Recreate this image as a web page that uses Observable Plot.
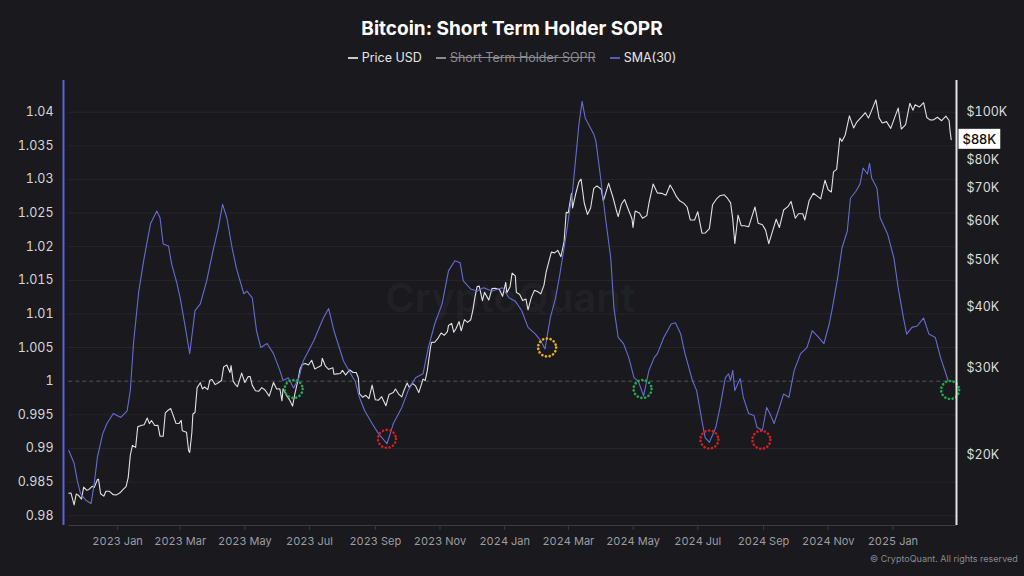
<!DOCTYPE html>
<html><head><meta charset="utf-8">
<script src="https://cdn.jsdelivr.net/npm/d3@7"></script>
<script src="https://cdn.jsdelivr.net/npm/@observablehq/plot@0.6"></script>
<style>
html,body{margin:0;padding:0;background:#19191e;}
body{width:1024px;height:576px;overflow:hidden;position:relative;font-family:Inter,"Noto Sans",sans-serif;}
#title{position:absolute;left:0;top:16px;width:1024px;text-align:center;color:#fff;font-size:19px;font-weight:700;line-height:26px;}
#legend{position:absolute;top:49px;left:0;width:1024px;display:flex;justify-content:center;gap:14px;font-size:12.5px;line-height:18px;color:#e6e6e6;}
#legend .it{display:flex;align-items:center;gap:4px;}
#legend .mk{display:inline-block;width:10px;height:1.5px;}
#legend .off{color:#8a8a8f;text-decoration:line-through;}
#chart{position:absolute;top:75px;left:0;}
#copy{position:absolute;left:870px;top:553px;font-size:9px;color:#8a8a8f;}
</style></head>
<body>
<div id="title">Bitcoin: Short Term Holder SOPR</div>
<div id="legend">
  <div class="it"><span class="mk" style="background:#c8c8c8"></span><span>Price USD</span></div>
  <div class="it"><span class="mk" style="background:#8a8a8f"></span><span class="off">Short Term Holder SOPR</span></div>
  <div class="it"><span class="mk" style="background:#5a5ab8"></span><span>SMA(30)</span></div>
</div>
<div id="chart"></div>
<div id="copy">© CryptoQuant. All rights reserved</div>
<script>
// ---- data ----
const smaSeries = [
["2022-11-16",0.9897],["2022-11-21",0.9878],["2022-11-24",0.9852],["2022-11-27",0.9833],["2022-12-02",0.9823],["2022-12-07",0.9818],["2022-12-10",0.9848],["2022-12-13",0.9887],["2022-12-18",0.9922],["2022-12-22",0.9937],["2022-12-28",0.9952],
["2023-01-04",0.9946],["2023-01-10",0.9956],["2023-01-13",0.9986],["2023-01-16",1.0056],["2023-01-21",1.0134],["2023-01-26",1.0183],["2023-02-01",1.0234],["2023-02-07",1.0253],["2023-02-10",1.0243],["2023-02-13",1.0204],["2023-02-18",1.0201],["2023-02-21",1.0174],["2023-02-26",1.0145],["2023-03-01",1.0124],["2023-03-06",1.0079],["2023-03-10",1.0041],["2023-03-15",1.0105],["2023-03-20",1.0115],["2023-03-26",1.0149],["2023-04-01",1.0194],["2023-04-06",1.0228],["2023-04-10",1.0263],["2023-04-14",1.0243],["2023-04-19",1.0198],["2023-04-23",1.0168],["2023-04-30",1.0130],["2023-05-03",1.0134],["2023-05-08",1.0124],["2023-05-12",1.0075],["2023-05-16",1.0050],["2023-05-22",1.0056],["2023-05-28",1.0041],["2023-06-03",1.0016],["2023-06-06",1.0001],["2023-06-11",1.0005],["2023-06-16",0.9990],["2023-06-21",1.0005],["2023-06-25",1.0030],["2023-07-05",1.0060],["2023-07-14",1.0094],["2023-07-19",1.0108],["2023-07-24",1.0075],["2023-08-02",1.0030],["2023-08-11",1.0005],["2023-08-13",1.0000],["2023-08-17",0.9976],["2023-08-22",0.9956],["2023-08-29",0.9937],["2023-09-04",0.9922],["2023-09-12",0.9907],["2023-09-18",0.9937],["2023-09-26",0.9961],["2023-10-02",0.9986],["2023-10-09",1.0005],["2023-10-16",1.0011],["2023-10-21",1.0050],["2023-10-27",1.0085],["2023-11-03",1.0115],["2023-11-09",1.0164],["2023-11-15",1.0179],["2023-11-20",1.0176],["2023-11-23",1.0149],["2023-11-30",1.0137],["2023-12-06",1.0134],["2023-12-12",1.0139],["2023-12-20",1.0134],["2023-12-30",1.0139],
["2024-01-05",1.0124],["2024-01-11",1.0119],["2024-01-17",1.0105],["2024-01-23",1.0080],["2024-01-30",1.0070],["2024-02-04",1.0060],["2024-02-08",1.0048],["2024-02-13",1.0094],["2024-02-18",1.0124],["2024-02-22",1.0159],["2024-02-27",1.0208],["2024-03-05",1.0283],["2024-03-08",1.0332],["2024-03-11",1.0382],["2024-03-14",1.0416],["2024-03-17",1.0391],["2024-03-22",1.0376],["2024-03-25",1.0367],["2024-03-27",1.0357],["2024-03-31",1.0308],["2024-04-05",1.0243],["2024-04-10",1.0183],["2024-04-13",1.0109],["2024-04-17",1.0065],["2024-04-22",1.0056],["2024-04-27",1.0035],["2024-05-02",1.0005],["2024-05-06",1.0000],["2024-05-11",0.9978],["2024-05-16",1.0016],["2024-05-21",1.0035],["2024-05-24",1.0041],["2024-05-30",1.0065],["2024-06-06",1.0085],["2024-06-10",1.0087],["2024-06-15",1.0070],["2024-06-19",1.0041],["2024-06-26",1.0001],["2024-06-30",0.9986],["2024-07-05",0.9941],["2024-07-08",0.9916],["2024-07-12",0.9909],["2024-07-18",0.9931],["2024-07-22",0.9961],["2024-07-27",1.0005],["2024-07-30",1.0011],["2024-08-01",1.0001],["2024-08-03",1.0016],["2024-08-05",0.9986],["2024-08-10",1.0004],["2024-08-13",0.9976],["2024-08-18",0.9952],["2024-08-23",0.9949],["2024-08-26",0.9931],["2024-08-31",0.9927],["2024-09-04",0.9961],["2024-09-07",0.9952],["2024-09-11",0.9937],["2024-09-15",0.9956],["2024-09-20",0.9981],["2024-09-25",0.9976],["2024-09-30",1.0016],["2024-10-06",1.0041],["2024-10-12",1.0050],["2024-10-17",1.0075],["2024-10-23",1.0065],["2024-10-28",1.0056],["2024-11-02",1.0085],["2024-11-05",1.0109],["2024-11-10",1.0154],["2024-11-14",1.0198],["2024-11-19",1.0223],["2024-11-22",1.0272],["2024-11-27",1.0282],["2024-12-01",1.0293],["2024-12-04",1.0317],["2024-12-08",1.0308],["2024-12-10",1.0324],["2024-12-12",1.0302],["2024-12-17",1.0287],["2024-12-20",1.0243],["2024-12-27",1.0219],
["2025-01-02",1.0183],["2025-01-06",1.0139],["2025-01-11",1.0094],["2025-01-14",1.0070],["2025-01-19",1.0080],["2025-01-24",1.0082],["2025-01-30",1.0094],["2025-02-04",1.0070],["2025-02-10",1.0065],["2025-02-15",1.0035],["2025-02-20",1.0011],["2025-02-22",1.0001]
];
const priceSeries = [
["2022-11-16",16670],["2022-11-18",16690],["2022-11-21",15780],["2022-11-23",16600],["2022-11-25",16520],["2022-11-28",16210],["2022-11-30",17160],["2022-12-03",16900],["2022-12-05",16970],["2022-12-08",17220],["2022-12-10",17130],["2022-12-13",17780],["2022-12-14",17810],["2022-12-16",16630],["2022-12-19",16440],["2022-12-21",16820],["2022-12-24",16830],["2022-12-28",16550],["2022-12-31",16540],
["2023-01-03",16680],["2023-01-06",16950],["2023-01-09",17190],["2023-01-11",17940],["2023-01-13",19930],["2023-01-15",20880],["2023-01-18",20680],["2023-01-20",22780],["2023-01-23",22930],["2023-01-26",23010],["2023-01-29",23740],["2023-01-31",23130],["2023-02-02",23470],["2023-02-05",22930],["2023-02-08",22960],["2023-02-10",21800],["2023-02-13",21790],["2023-02-15",24330],["2023-02-17",24570],["2023-02-20",24830],["2023-02-22",24190],["2023-02-25",23170],["2023-02-28",23150],["2023-03-02",23480],["2023-03-03",22360],["2023-03-07",22200],["2023-03-09",20360],["2023-03-10",20190],["2023-03-12",22160],["2023-03-13",24200],["2023-03-15",24370],["2023-03-17",27400],["2023-03-20",28040],["2023-03-22",27230],["2023-03-24",27480],["2023-03-27",27140],["2023-03-29",28350],["2023-03-31",28470],["2023-04-03",27790],["2023-04-06",28030],["2023-04-09",28330],["2023-04-11",30210],["2023-04-14",30480],["2023-04-17",29430],["2023-04-18",30390],["2023-04-20",28250],["2023-04-22",27820],["2023-04-24",27520],["2023-04-26",28420],["2023-04-28",29330],["2023-05-01",28070],["2023-05-04",28850],["2023-05-06",28860],["2023-05-08",27690],["2023-05-11",26990],["2023-05-14",26930],["2023-05-17",27400],["2023-05-20",27100],["2023-05-24",26330],["2023-05-28",28070],["2023-05-31",27220],["2023-06-03",27250],["2023-06-05",25750],["2023-06-06",27240],["2023-06-09",26480],["2023-06-12",25900],["2023-06-15",25120],["2023-06-17",26510],["2023-06-20",28330],["2023-06-22",29890],["2023-06-24",30550],["2023-06-27",30690],["2023-06-30",30480],["2023-07-03",31160],["2023-07-06",29910],["2023-07-09",30170],["2023-07-12",30390],["2023-07-13",31470],["2023-07-16",30300],["2023-07-19",29860],["2023-07-23",30080],["2023-07-24",29180],["2023-07-27",29230],["2023-07-30",29280],["2023-08-01",29710],["2023-08-04",29080],["2023-08-08",29770],["2023-08-11",29420],["2023-08-14",29410],["2023-08-16",28700],["2023-08-17",26620],["2023-08-20",26190],["2023-08-23",26430],["2023-08-26",26020],["2023-08-29",27730],["2023-09-01",25870],["2023-09-04",25830],["2023-09-07",26250],["2023-09-11",25160],["2023-09-14",26540],["2023-09-18",26770],["2023-09-20",27220],["2023-09-23",26580],["2023-09-26",26230],["2023-09-28",27030],["2023-10-01",28000],["2023-10-03",27430],["2023-10-06",27950],["2023-10-09",27620],["2023-10-12",26760],["2023-10-16",28520],["2023-10-18",28330],["2023-10-20",29670],["2023-10-23",33090],["2023-10-24",33900],["2023-10-27",33920],["2023-10-30",34530],["2023-11-02",35420],["2023-11-05",35050],["2023-11-08",35650],["2023-11-09",36690],["2023-11-12",37070],["2023-11-14",35540],["2023-11-16",36160],["2023-11-19",37390],["2023-11-21",35800],["2023-11-24",37720],["2023-11-27",37250],["2023-11-30",37710],["2023-12-02",39460],["2023-12-04",41980],["2023-12-06",44080],["2023-12-08",44170],["2023-12-11",41240],["2023-12-13",42890],["2023-12-17",41360],["2023-12-20",43650],["2023-12-23",43720],["2023-12-27",43470],["2023-12-30",42100],
["2024-01-02",44950],["2024-01-03",42840],["2024-01-06",43980],["2024-01-08",46970],["2024-01-11",46340],["2024-01-12",42850],["2024-01-15",42510],["2024-01-18",41290],["2024-01-21",41580],["2024-01-23",39510],["2024-01-26",41800],["2024-01-29",43300],["2024-02-01",43080],["2024-02-04",42580],["2024-02-07",44340],["2024-02-09",47130],["2024-02-12",49920],["2024-02-14",51840],["2024-02-17",51660],["2024-02-20",52270],["2024-02-23",50730],["2024-02-26",54480],["2024-02-28",62500],["2024-03-01",62430],["2024-03-04",68330],["2024-03-05",63800],["2024-03-08",68300],["2024-03-11",72120],["2024-03-13",73080],["2024-03-16",65320],["2024-03-19",61910],["2024-03-22",63800],["2024-03-25",69960],["2024-03-28",70780],["2024-04-01",69700],["2024-04-03",65980],["2024-04-08",71630],["2024-04-12",67190],["2024-04-15",63430],["2024-04-17",61280],["2024-04-20",64930],["2024-04-23",66400],["2024-04-26",63800],["2024-04-30",60640],["2024-05-01",58250],["2024-05-03",62900],["2024-05-07",62300],["2024-05-10",60790],["2024-05-14",61550],["2024-05-16",65250],["2024-05-20",71450],["2024-05-24",68500],["2024-05-28",68350],["2024-06-01",67760],["2024-06-05",71080],["2024-06-08",69300],["2024-06-11",67300],["2024-06-14",66000],["2024-06-18",65200],["2024-06-21",64100],["2024-06-24",60300],["2024-06-28",60300],["2024-07-01",62700],["2024-07-05",56660],["2024-07-08",56700],["2024-07-12",57900],["2024-07-15",64800],["2024-07-19",66700],["2024-07-22",67600],["2024-07-26",67900],["2024-07-29",66800],["2024-08-01",65350],["2024-08-03",60700],["2024-08-05",54000],["2024-08-08",61700],["2024-08-11",58700],["2024-08-14",58700],["2024-08-18",58400],["2024-08-21",61200],["2024-08-24",64100],["2024-08-27",59400],["2024-08-31",58950],["2024-09-03",57500],["2024-09-06",53950],["2024-09-10",57650],["2024-09-13",60500],["2024-09-16",58200],["2024-09-20",63200],["2024-09-24",64200],["2024-09-27",65800],["2024-10-01",60800],["2024-10-04",62100],["2024-10-08",62100],["2024-10-10",60300],["2024-10-14",66000],["2024-10-18",68400],["2024-10-22",67400],["2024-10-25",66600],["2024-10-29",72700],["2024-11-01",69500],["2024-11-04",68800],["2024-11-06",75600],["2024-11-09",76500],["2024-11-12",88700],["2024-11-14",87300],["2024-11-17",89800],["2024-11-21",98400],["2024-11-25",93000],["2024-11-28",95600],["2024-12-01",97200],["2024-12-04",98800],["2024-12-06",99900],["2024-12-09",97400],["2024-12-12",101000],["2024-12-16",106100],["2024-12-19",97500],["2024-12-22",95200],["2024-12-26",95800],["2024-12-30",92800],
["2025-01-03",98100],["2025-01-06",102100],["2025-01-09",92500],["2025-01-13",94500],["2025-01-17",104400],["2025-01-20",101100],["2025-01-22",103700],["2025-01-26",102600],["2025-01-30",104700],["2025-02-02",97700],["2025-02-05",96600],["2025-02-08",96500],["2025-02-12",97800],["2025-02-16",96200],["2025-02-20",98300],["2025-02-23",96300],["2025-02-24",91400],["2025-02-25",88000]
];
const circleDates  = ["2023-06-16","2023-09-12","2024-02-10","2024-05-10","2024-07-12","2024-08-30","2025-02-24"];
const circleValues = [0.99884,0.99142,1.00501,0.99884,0.99132,0.99128,0.99869];
const circleColors = ["#1fae4f","#d21f1f","#e9b21c","#1fae4f","#d21f1f","#d21f1f","#1fae4f"];
const soprTicks  = [0.98,0.985,0.99,0.995,1,1.005,1.01,1.015,1.02,1.025,1.03,1.035,1.04];
const priceTicks = [20000,30000,40000,50000,60000,70000,80000,100000];
const xTicks = ["2023-01-01","2023-03-01","2023-05-01","2023-07-01","2023-09-01","2023-11-01","2024-01-01","2024-03-01","2024-05-01","2024-07-01","2024-09-01","2024-11-01","2025-01-01"];
const lastPriceLabel = "$88K";

// ---- scales setup ----
const parse = d3.utcParse("%Y-%m-%d");
const xDomain = [parse("2022-11-11"), parse("2025-03-02")];
const yDomain = [0.97854, 1.04471];
const pDomain = [14320, 116250];
const L0 = Math.log(pDomain[0]), L1 = Math.log(pDomain[1]);
const toS = p => yDomain[0] + (Math.log(p) - L0) / (L1 - L0) * (yDomain[1] - yDomain[0]);
const fromS = s => Math.exp(L0 + (s - yDomain[0]) / (yDomain[1] - yDomain[0]) * (L1 - L0));

const sma = smaSeries.map(([d, v]) => ({date: parse(d), v}));
const price = priceSeries.map(([d, p]) => ({date: parse(d), s: toS(p), p}));
const circles = circleDates.map((d, i) => ({date: parse(d), v: circleValues[i], c: circleColors[i]}));
const gridStart = sma[0].date;
const last = price[price.length - 1];

const chart = Plot.plot({
  width: 1024, height: 501,
  marginTop: 5, marginBottom: 51, marginLeft: 63, marginRight: 68,
  style: {background: "transparent", color: "#d6d6d6", fontFamily: "Inter, 'Noto Sans', sans-serif"},
  x: {type: "utc", domain: xDomain, axis: null},
  y: {domain: yDomain, axis: null},
  marks: [
    Plot.ruleY(soprTicks.filter(t => t !== 1), {x1: gridStart, x2: xDomain[1], stroke: "#26262c", strokeWidth: 1}),
    Plot.ruleY([1], {x1: gridStart, x2: xDomain[1], stroke: "#55555c", strokeDasharray: "4,3"}),
    Plot.text(["CryptoQuant"], {frameAnchor: "middle", dy: -4, fontSize: 40, fontWeight: 600, fill: "#ffffff", fillOpacity: 0.05}),
    Plot.ruleY([yDomain[0]], {x1: gridStart, x2: xDomain[1], stroke: "#3a3a41"}),
    Plot.axisX(xTicks.map(parse), {tickSize: 5, tickPadding: 7, stroke: "#3a3a41", fill: "#9d9da2", fontSize: 11, tickFormat: d3.utcFormat("%Y %b")}),
    Plot.axisY(soprTicks, {anchor: "left", tickSize: 0, tickPadding: 10, fill: "#d6d6d6", fontSize: 12.5, tickFormat: d => String(+d.toFixed(3))}),
    Plot.axisY(priceTicks.map(toS), {anchor: "right", tickSize: 0, tickPadding: 10, fill: "#dcdcdc", fontSize: 12.5, tickFormat: s => "$" + Math.round(fromS(s) / 1000) + "K"}),
    Plot.line(price, {x: "date", y: "s", stroke: "#e2e2e2", strokeWidth: 1.1}),
    Plot.line(sma, {x: "date", y: "v", stroke: "#6a6ad4", strokeWidth: 1.1}),
    Plot.dot(circles, {x: "date", y: "v", r: 9, stroke: "c", fill: "none", strokeWidth: 2.6, strokeDasharray: "0.1 3.7", strokeLinecap: "round"}),
    Plot.ruleX([xDomain[0]], {stroke: "#6060d8", strokeWidth: 2}),
    Plot.ruleX([xDomain[1]], {stroke: "#e4e4e4", strokeWidth: 2}),
    Plot.text([last], {y: "s", frameAnchor: "right", textAnchor: "start", dx: 6, text: () => lastPriceLabel, fill: "#111", fontSize: 13, fontWeight: 500})
  ]
});
document.getElementById("chart").appendChild(chart);

// white box behind the last-price label
d3.select(chart).selectAll("text")
  .filter(function() { return this.textContent === lastPriceLabel; })
  .each(function() {
    const b = this.getBBox();
    const t = this.getAttribute("transform");
    const r = document.createElementNS("http://www.w3.org/2000/svg", "rect");
    r.setAttribute("x", b.x - 4); r.setAttribute("y", b.y - 2);
    r.setAttribute("width", b.width + 8); r.setAttribute("height", b.height + 4);
    r.setAttribute("fill", "#ffffff");
    if (t) r.setAttribute("transform", t);
    this.parentNode.insertBefore(r, this);
  });
</script>
</body></html>
